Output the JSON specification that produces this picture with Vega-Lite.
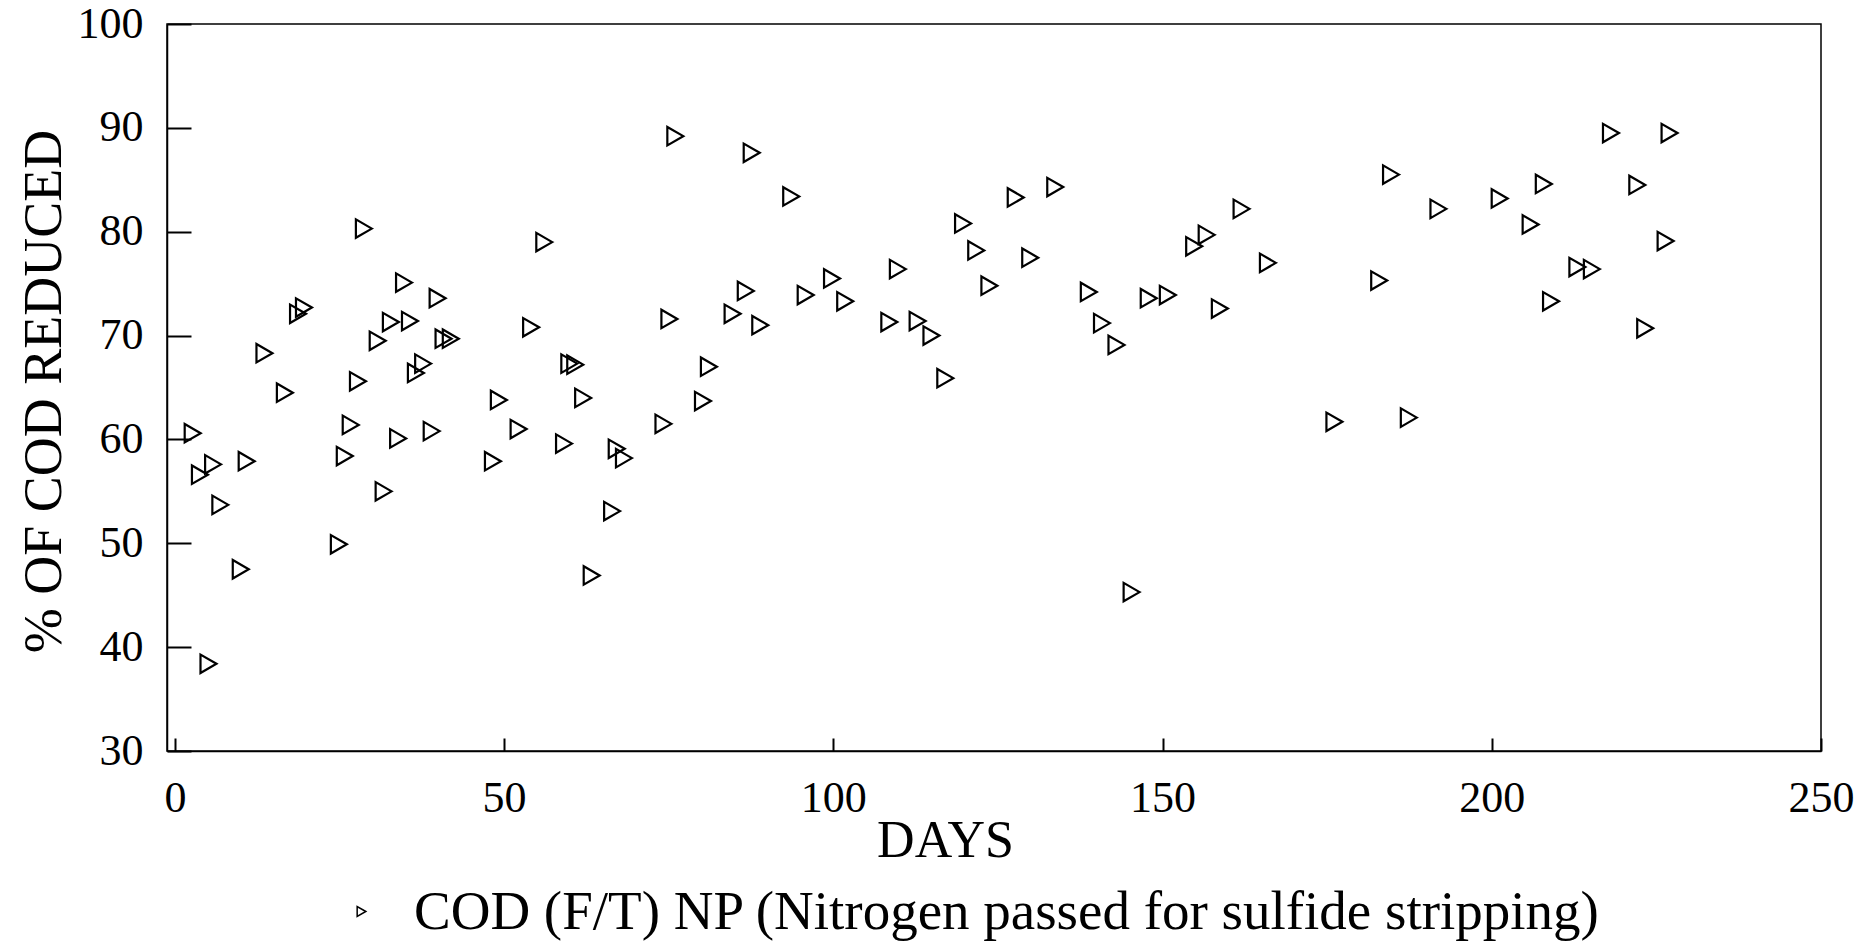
{
  "$schema": "https://vega.github.io/schema/vega-lite/v6.json",
  "width": 1654,
  "height": 727,
  "autosize": {"type": "none"},
  "padding": {"left": 167, "top": 24, "right": 51, "bottom": 191},
  "background": "white",
  "config": {
    "view": {"stroke": "black", "strokeWidth": 1.5},
    "font": "Liberation Serif"
  },
  "data": {
    "values": [
      {"day": 2.7, "cod": 60.6, "series": "COD (F/T) NP (Nitrogen passed for sulfide stripping)"},
      {"day": 3.8, "cod": 56.6, "series": "COD (F/T) NP (Nitrogen passed for sulfide stripping)"},
      {"day": 5.8, "cod": 57.6, "series": "COD (F/T) NP (Nitrogen passed for sulfide stripping)"},
      {"day": 5.1, "cod": 38.4, "series": "COD (F/T) NP (Nitrogen passed for sulfide stripping)"},
      {"day": 6.9, "cod": 53.7, "series": "COD (F/T) NP (Nitrogen passed for sulfide stripping)"},
      {"day": 10.0, "cod": 47.5, "series": "COD (F/T) NP (Nitrogen passed for sulfide stripping)"},
      {"day": 10.9, "cod": 57.9, "series": "COD (F/T) NP (Nitrogen passed for sulfide stripping)"},
      {"day": 13.6, "cod": 68.3, "series": "COD (F/T) NP (Nitrogen passed for sulfide stripping)"},
      {"day": 16.7, "cod": 64.5, "series": "COD (F/T) NP (Nitrogen passed for sulfide stripping)"},
      {"day": 18.7, "cod": 72.1, "series": "COD (F/T) NP (Nitrogen passed for sulfide stripping)"},
      {"day": 19.6, "cod": 72.7, "series": "COD (F/T) NP (Nitrogen passed for sulfide stripping)"},
      {"day": 24.9, "cod": 49.9, "series": "COD (F/T) NP (Nitrogen passed for sulfide stripping)"},
      {"day": 25.8, "cod": 58.4, "series": "COD (F/T) NP (Nitrogen passed for sulfide stripping)"},
      {"day": 26.7, "cod": 61.4, "series": "COD (F/T) NP (Nitrogen passed for sulfide stripping)"},
      {"day": 27.8, "cod": 65.6, "series": "COD (F/T) NP (Nitrogen passed for sulfide stripping)"},
      {"day": 28.7, "cod": 80.3, "series": "COD (F/T) NP (Nitrogen passed for sulfide stripping)"},
      {"day": 30.8, "cod": 69.5, "series": "COD (F/T) NP (Nitrogen passed for sulfide stripping)"},
      {"day": 31.7, "cod": 55.0, "series": "COD (F/T) NP (Nitrogen passed for sulfide stripping)"},
      {"day": 32.8, "cod": 71.3, "series": "COD (F/T) NP (Nitrogen passed for sulfide stripping)"},
      {"day": 33.9, "cod": 60.1, "series": "COD (F/T) NP (Nitrogen passed for sulfide stripping)"},
      {"day": 34.8, "cod": 75.1, "series": "COD (F/T) NP (Nitrogen passed for sulfide stripping)"},
      {"day": 35.7, "cod": 71.4, "series": "COD (F/T) NP (Nitrogen passed for sulfide stripping)"},
      {"day": 36.6, "cod": 66.4, "series": "COD (F/T) NP (Nitrogen passed for sulfide stripping)"},
      {"day": 37.7, "cod": 67.3, "series": "COD (F/T) NP (Nitrogen passed for sulfide stripping)"},
      {"day": 39.0, "cod": 60.8, "series": "COD (F/T) NP (Nitrogen passed for sulfide stripping)"},
      {"day": 39.9, "cod": 73.6, "series": "COD (F/T) NP (Nitrogen passed for sulfide stripping)"},
      {"day": 40.8, "cod": 69.7, "series": "COD (F/T) NP (Nitrogen passed for sulfide stripping)"},
      {"day": 41.9, "cod": 69.7, "series": "COD (F/T) NP (Nitrogen passed for sulfide stripping)"},
      {"day": 48.3, "cod": 57.9, "series": "COD (F/T) NP (Nitrogen passed for sulfide stripping)"},
      {"day": 49.2, "cod": 63.8, "series": "COD (F/T) NP (Nitrogen passed for sulfide stripping)"},
      {"day": 52.2, "cod": 61.0, "series": "COD (F/T) NP (Nitrogen passed for sulfide stripping)"},
      {"day": 54.1, "cod": 70.8, "series": "COD (F/T) NP (Nitrogen passed for sulfide stripping)"},
      {"day": 56.1, "cod": 79.0, "series": "COD (F/T) NP (Nitrogen passed for sulfide stripping)"},
      {"day": 59.1, "cod": 59.6, "series": "COD (F/T) NP (Nitrogen passed for sulfide stripping)"},
      {"day": 59.9, "cod": 67.3, "series": "COD (F/T) NP (Nitrogen passed for sulfide stripping)"},
      {"day": 60.8, "cod": 67.2, "series": "COD (F/T) NP (Nitrogen passed for sulfide stripping)"},
      {"day": 62.0, "cod": 64.0, "series": "COD (F/T) NP (Nitrogen passed for sulfide stripping)"},
      {"day": 63.3, "cod": 46.9, "series": "COD (F/T) NP (Nitrogen passed for sulfide stripping)"},
      {"day": 66.4, "cod": 53.1, "series": "COD (F/T) NP (Nitrogen passed for sulfide stripping)"},
      {"day": 67.1, "cod": 59.1, "series": "COD (F/T) NP (Nitrogen passed for sulfide stripping)"},
      {"day": 68.2, "cod": 58.2, "series": "COD (F/T) NP (Nitrogen passed for sulfide stripping)"},
      {"day": 74.2, "cod": 61.5, "series": "COD (F/T) NP (Nitrogen passed for sulfide stripping)"},
      {"day": 75.1, "cod": 71.6, "series": "COD (F/T) NP (Nitrogen passed for sulfide stripping)"},
      {"day": 76.0, "cod": 89.2, "series": "COD (F/T) NP (Nitrogen passed for sulfide stripping)"},
      {"day": 80.2, "cod": 63.7, "series": "COD (F/T) NP (Nitrogen passed for sulfide stripping)"},
      {"day": 81.1, "cod": 67.0, "series": "COD (F/T) NP (Nitrogen passed for sulfide stripping)"},
      {"day": 84.7, "cod": 72.1, "series": "COD (F/T) NP (Nitrogen passed for sulfide stripping)"},
      {"day": 86.7, "cod": 74.3, "series": "COD (F/T) NP (Nitrogen passed for sulfide stripping)"},
      {"day": 87.6, "cod": 87.6, "series": "COD (F/T) NP (Nitrogen passed for sulfide stripping)"},
      {"day": 88.9, "cod": 71.0, "series": "COD (F/T) NP (Nitrogen passed for sulfide stripping)"},
      {"day": 93.6, "cod": 83.4, "series": "COD (F/T) NP (Nitrogen passed for sulfide stripping)"},
      {"day": 95.8, "cod": 73.9, "series": "COD (F/T) NP (Nitrogen passed for sulfide stripping)"},
      {"day": 99.8, "cod": 75.5, "series": "COD (F/T) NP (Nitrogen passed for sulfide stripping)"},
      {"day": 101.8, "cod": 73.3, "series": "COD (F/T) NP (Nitrogen passed for sulfide stripping)"},
      {"day": 108.5, "cod": 71.3, "series": "COD (F/T) NP (Nitrogen passed for sulfide stripping)"},
      {"day": 109.8, "cod": 76.4, "series": "COD (F/T) NP (Nitrogen passed for sulfide stripping)"},
      {"day": 112.8, "cod": 71.4, "series": "COD (F/T) NP (Nitrogen passed for sulfide stripping)"},
      {"day": 114.9, "cod": 70.0, "series": "COD (F/T) NP (Nitrogen passed for sulfide stripping)"},
      {"day": 117.0, "cod": 65.9, "series": "COD (F/T) NP (Nitrogen passed for sulfide stripping)"},
      {"day": 119.7, "cod": 80.8, "series": "COD (F/T) NP (Nitrogen passed for sulfide stripping)"},
      {"day": 121.7, "cod": 78.2, "series": "COD (F/T) NP (Nitrogen passed for sulfide stripping)"},
      {"day": 123.7, "cod": 74.8, "series": "COD (F/T) NP (Nitrogen passed for sulfide stripping)"},
      {"day": 127.7, "cod": 83.3, "series": "COD (F/T) NP (Nitrogen passed for sulfide stripping)"},
      {"day": 129.9, "cod": 77.5, "series": "COD (F/T) NP (Nitrogen passed for sulfide stripping)"},
      {"day": 133.7, "cod": 84.3, "series": "COD (F/T) NP (Nitrogen passed for sulfide stripping)"},
      {"day": 138.8, "cod": 74.2, "series": "COD (F/T) NP (Nitrogen passed for sulfide stripping)"},
      {"day": 140.8, "cod": 71.2, "series": "COD (F/T) NP (Nitrogen passed for sulfide stripping)"},
      {"day": 143.0, "cod": 69.1, "series": "COD (F/T) NP (Nitrogen passed for sulfide stripping)"},
      {"day": 145.3, "cod": 45.3, "series": "COD (F/T) NP (Nitrogen passed for sulfide stripping)"},
      {"day": 147.9, "cod": 73.6, "series": "COD (F/T) NP (Nitrogen passed for sulfide stripping)"},
      {"day": 150.8, "cod": 73.9, "series": "COD (F/T) NP (Nitrogen passed for sulfide stripping)"},
      {"day": 154.8, "cod": 78.6, "series": "COD (F/T) NP (Nitrogen passed for sulfide stripping)"},
      {"day": 156.7, "cod": 79.7, "series": "COD (F/T) NP (Nitrogen passed for sulfide stripping)"},
      {"day": 158.7, "cod": 72.6, "series": "COD (F/T) NP (Nitrogen passed for sulfide stripping)"},
      {"day": 162.0, "cod": 82.2, "series": "COD (F/T) NP (Nitrogen passed for sulfide stripping)"},
      {"day": 166.0, "cod": 77.0, "series": "COD (F/T) NP (Nitrogen passed for sulfide stripping)"},
      {"day": 176.1, "cod": 61.7, "series": "COD (F/T) NP (Nitrogen passed for sulfide stripping)"},
      {"day": 182.9, "cod": 75.3, "series": "COD (F/T) NP (Nitrogen passed for sulfide stripping)"},
      {"day": 184.7, "cod": 85.5, "series": "COD (F/T) NP (Nitrogen passed for sulfide stripping)"},
      {"day": 187.4, "cod": 62.1, "series": "COD (F/T) NP (Nitrogen passed for sulfide stripping)"},
      {"day": 191.9, "cod": 82.2, "series": "COD (F/T) NP (Nitrogen passed for sulfide stripping)"},
      {"day": 201.2, "cod": 83.2, "series": "COD (F/T) NP (Nitrogen passed for sulfide stripping)"},
      {"day": 205.9, "cod": 80.7, "series": "COD (F/T) NP (Nitrogen passed for sulfide stripping)"},
      {"day": 207.9, "cod": 84.6, "series": "COD (F/T) NP (Nitrogen passed for sulfide stripping)"},
      {"day": 209.0, "cod": 73.3, "series": "COD (F/T) NP (Nitrogen passed for sulfide stripping)"},
      {"day": 213.0, "cod": 76.6, "series": "COD (F/T) NP (Nitrogen passed for sulfide stripping)"},
      {"day": 215.2, "cod": 76.4, "series": "COD (F/T) NP (Nitrogen passed for sulfide stripping)"},
      {"day": 218.1, "cod": 89.5, "series": "COD (F/T) NP (Nitrogen passed for sulfide stripping)"},
      {"day": 222.1, "cod": 84.5, "series": "COD (F/T) NP (Nitrogen passed for sulfide stripping)"},
      {"day": 223.3, "cod": 70.7, "series": "COD (F/T) NP (Nitrogen passed for sulfide stripping)"},
      {"day": 226.4, "cod": 79.1, "series": "COD (F/T) NP (Nitrogen passed for sulfide stripping)"},
      {"day": 227.0, "cod": 89.5, "series": "COD (F/T) NP (Nitrogen passed for sulfide stripping)"}
    ]
  },
  "mark": {"type": "point", "filled": false, "stroke": "black", "strokeWidth": 2.2, "size": 340, "opacity": 1},
  "encoding": {
    "x": {
      "field": "day",
      "type": "quantitative",
      "scale": {"domain": [-1.2, 250], "nice": false, "zero": false},
      "axis": {
        "title": "DAYS",
        "titleFont": "Liberation Serif",
        "titleFontSize": 52,
        "titleFontWeight": "normal",
        "titleColor": "black",
        "titleX": 778,
        "titleY": 105,
        "titleBaseline": "alphabetic",
        "titleAlign": "center",
        "values": [0, 50, 100, 150, 200, 250],
        "labelFont": "Liberation Serif",
        "labelFontSize": 44,
        "labelColor": "black",
        "labelPadding": 38,
        "labelFlush": false,
        "labelOverlap": false,
        "tickSize": -13,
        "tickColor": "black",
        "tickWidth": 2,
        "domainColor": "black",
        "domainWidth": 1.5,
        "grid": false
      }
    },
    "y": {
      "field": "cod",
      "type": "quantitative",
      "scale": {"domain": [30, 100], "nice": false, "zero": false},
      "axis": {
        "title": "% OF COD REDUCED",
        "titleFont": "Liberation Serif",
        "titleFontSize": 54,
        "titleFontWeight": "normal",
        "titleColor": "black",
        "titleAngle": -90,
        "titleX": -107,
        "titleY": 367,
        "titleAlign": "center",
        "titleBaseline": "alphabetic",
        "values": [30, 40, 50, 60, 70, 80, 90, 100],
        "labelFont": "Liberation Serif",
        "labelFontSize": 44,
        "labelColor": "black",
        "labelPadding": 48,
        "labelFlush": false,
        "labelOverlap": false,
        "tickSize": -24,
        "tickColor": "black",
        "tickWidth": 2,
        "domainColor": "black",
        "domainWidth": 1.5,
        "grid": false
      }
    },
    "shape": {
      "field": "series",
      "type": "nominal",
      "scale": {"range": ["triangle-right"]},
      "legend": {
        "title": null,
        "orient": "none",
        "legendX": 167,
        "legendY": 860,
        "labelFont": "Liberation Serif",
        "labelFontSize": 55,
        "labelColor": "black",
        "labelLimit": 3000,
        "labelOffset": 25,
        "symbolSize": 100,
        "symbolStrokeColor": "black",
        "symbolFillColor": "transparent",
        "symbolStrokeWidth": 1.5
      }
    }
  }
}
